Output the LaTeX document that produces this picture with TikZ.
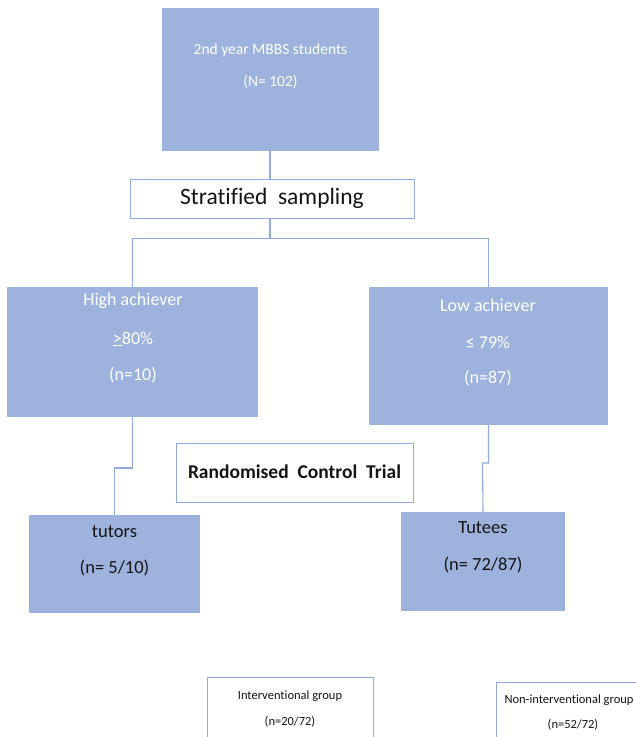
\documentclass[tikz,border=0pt]{standalone}
\usepackage{fontspec}
\setmainfont{Carlito}[Ligatures=CommonOff]
\definecolor{boxfill}{RGB}{157,178,220}
\definecolor{linec}{RGB}{143,170,220}
\definecolor{txtdark}{RGB}{20,20,20}
\tikzset{
  bluebox/.style={fill=boxfill, draw=none, inner sep=0pt, anchor=center},
  whitebox/.style={fill=white, draw=linec, line width=0.9pt, inner sep=0pt, anchor=center},
  conn/.style={draw=linec, line width=1.1pt},
  wtxt/.style={text=white, inner sep=0pt, anchor=center},
  dtxt/.style={text=txtdark, inner sep=0pt, anchor=center},
}
\begin{document}
\begin{tikzpicture}[x=1pt,y=-1pt]
\useasboundingbox (0,0) rectangle (636,737);
\clip (0,0) rectangle (636,737);
% boxes
\node[bluebox, minimum width=217pt, minimum height=143pt] (top) at (270.5,79.5) {};
\node[whitebox, minimum width=284pt, minimum height=39pt] (strat) at (272,198.5) {};
\node[bluebox, minimum width=251pt, minimum height=130pt] (high) at (132.5,352) {};
\node[bluebox, minimum width=239pt, minimum height=138pt] (low) at (488.5,356) {};
\node[whitebox, minimum width=237pt, minimum height=59pt] (rct) at (294.5,472.5) {};
\node[bluebox, minimum width=171pt, minimum height=98pt] (tutors) at (114.5,564) {};
\node[bluebox, minimum width=164pt, minimum height=99pt] (tutees) at (483,561.5) {};
\node[whitebox, minimum width=166pt, minimum height=80pt] (interv) at (290,717) {};
\node[whitebox, minimum width=166pt, minimum height=80pt] (noninterv) at (579,722) {};
% texts
\node[wtxt, font=\fontsize{15.5}{18}\selectfont] (t1) at (270.5,50) {2nd year MBBS students};
\node[wtxt, font=\fontsize{15.5}{18}\selectfont] (t2) at (270.5,82) {(N= 102)};
\node[dtxt, font=\fontsize{23.5}{28}\selectfont] (t3) at (272,198) {Stratified\ \ sampling};
\node[wtxt, font=\fontsize{18}{22}\selectfont] (t4) at (133,301) {High achiever};
\node[wtxt, font=\fontsize{18}{22}\selectfont] (t5) at (133,339) {\underline{>}80\%};
\node[wtxt, font=\fontsize{18}{22}\selectfont] (t6) at (133,375) {(n=10)};
\node[wtxt, font=\fontsize{18}{22}\selectfont] (t7) at (488,305) {Low achiever};
\node[wtxt, font=\fontsize{18}{22}\selectfont] (t8) at (488,342) {≤ 79\%};
\node[wtxt, font=\fontsize{18}{22}\selectfont] (t9) at (488,378) {(n=87)};
\node[dtxt, font=\fontsize{19.5}{24}\selectfont\bfseries] (t10) at (294.5,472) {Randomised\ \ Control\ \ Trial};
\node[dtxt, font=\fontsize{18.5}{22}\selectfont] (t11) at (114.5,532) {tutors};
\node[dtxt, font=\fontsize{18.5}{22}\selectfont] (t12) at (114.5,568) {(n= 5/10)};
\node[dtxt, font=\fontsize{18.5}{22}\selectfont] (t13) at (483,528) {Tutees};
\node[dtxt, font=\fontsize{18.5}{22}\selectfont] (t14) at (483,565) {(n= 72/87)};
\node[dtxt, font=\fontsize{12.5}{15}\selectfont] (t15) at (290,696) {Interventional group};
\node[dtxt, font=\fontsize{12.5}{15}\selectfont] (t16) at (290,722) {(n=20/72)};
\node[dtxt, font=\fontsize{12.5}{15}\selectfont] (t17) at (569,700) {Non-interventional group};
\node[dtxt, font=\fontsize{12.5}{15}\selectfont] (t18) at (573,725) {(n=52/72)};
% connectors
\coordinate (split) at (270,238.5);
\coordinate (hk) at (114.5,468);
\coordinate (lk) at (482.5,463);
\draw[conn] (top.south -| split) -- (strat.north -| split);
\draw[conn] (strat.south -| split) -- (split);
\draw[conn] (high.north) |- (split) -| (low.north);
\draw[conn] (high.south) |- (hk) -- (tutors.north);
\draw[conn] (low.south) |- (lk) -- (tutees.north);
\end{tikzpicture}
\end{document}
